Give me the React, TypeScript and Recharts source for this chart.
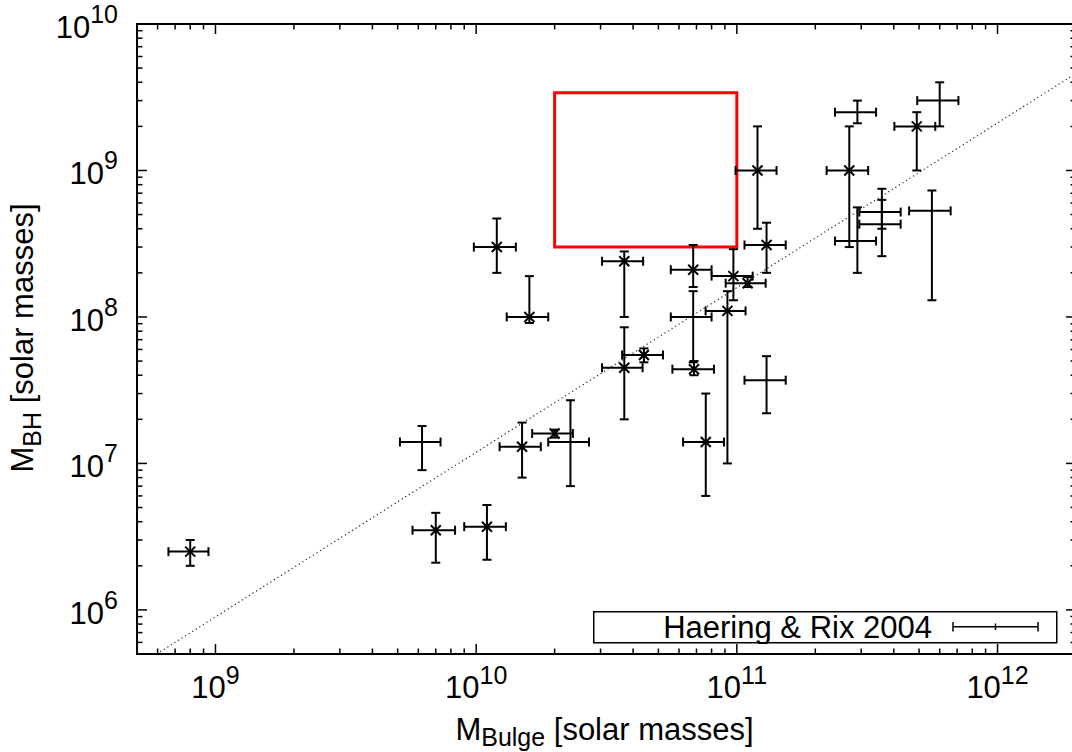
import React from 'react';
import {
  ErrorBar,
  Legend,
  ReferenceArea,
  Scatter,
  ScatterChart,
  XAxis,
  YAxis,
} from 'recharts';

// values (solar masses)
const bulgeMass = [
  8e8, 7e9, 1.1e10, 6.2e9, 1.2e10, 1.6e10, 1.5e10, 2.0e10, 2.3e10, 3.7e10,
  3.7e10, 4.4e10, 6.8e10, 6.8e10, 6.85e10, 7.6e10, 9.2e10, 9.7e10, 1.1e11, 1.2e11,
  1.3e11, 1.3e11, 2.7e11, 2.9e11, 2.9e11, 3.6e11, 3.6e11, 4.9e11, 5.6e11, 6.0e11,
];
const bulgeLow = [
  6.6e8, 5.7e9, 9.0e9, 5.1e9, 9.8e9, 1.31e10, 1.23e10, 1.64e10, 1.89e10, 3.04e10,
  3.04e10, 3.63e10, 5.58e10, 5.58e10, 5.66e10, 6.22e10, 7.59e10, 8.0e10, 9.06e10, 9.88e10,
  1.07e11, 1.07e11, 2.21e11, 2.38e11, 2.38e11, 2.95e11, 2.95e11, 4.02e11, 4.58e11, 4.92e11,
];
const bulgeHigh = [
  9.4e8, 8.3e9, 1.3e10, 7.3e9, 1.42e10, 1.89e10, 1.77e10, 2.35e10, 2.71e10, 4.37e10,
  4.35e10, 5.21e10, 8.0e10, 8.0e10, 8.17e10, 8.93e10, 1.08e11, 1.15e11, 1.29e11, 1.42e11,
  1.54e11, 1.54e11, 3.19e11, 3.42e11, 3.42e11, 4.25e11, 4.25e11, 5.77e11, 6.61e11, 7.08e11,
];
const bhMass = [
  2.5e6, 3.5e6, 3.7e6, 1.4e7, 3.0e8, 1.0e8, 1.3e7, 1.6e7, 1.4e7, 2.4e8,
  4.5e7, 5.5e7, 2.1e8, 1.0e8, 4.4e7, 1.4e7, 1.1e8, 1.9e8, 1.7e8, 1.0e9,
  3.1e8, 3.7e7, 1.0e9, 2.5e9, 3.3e8, 5.2e8, 4.3e8, 2.0e9, 5.3e8, 3.0e9,
];
const bhLow = [
  2.0e6, 2.1e6, 2.2e6, 9.0e6, 2.0e8, 9.1e7, 8.0e6, 1.5e7, 7.0e6, 1.0e8,
  2.0e7, 4.9e7, 1.6e8, 4.9e7, 4.0e7, 6.0e6, 1.0e7, 1.3e8, 1.6e8, 4.0e8,
  2.0e8, 2.2e7, 3.0e8, 2.1e9, 2.0e8, 4.0e8, 2.6e8, 1.0e9, 1.3e8, 2.0e9,
];
const bhHigh = [
  3.0e6, 4.6e6, 5.2e6, 1.8e7, 4.7e8, 1.9e8, 1.9e7, 1.7e7, 2.7e7, 2.8e8,
  8.5e7, 6.1e7, 3.1e8, 1.5e8, 5.0e7, 3.0e7, 1.5e8, 2.9e8, 1.87e8, 2.0e9,
  4.4e8, 5.4e7, 2.0e9, 3.0e9, 5.6e8, 7.5e8, 6.3e8, 2.5e9, 7.3e8, 4.0e9,
];
// 'x' = drawn with a cross, '+' = error bars only
const marker = [
  'x', 'x', 'x', '+', 'x', 'x', 'x', 'x', '+', 'x',
  'x', 'x', 'x', '+', 'x', 'x', 'x', 'x', 'x', 'x',
  'x', '+', 'x', '+', '+', '+', '+', 'x', '+', '+',
];

// dotted relation line, end points
const fitMass = [5.95e8, 2e12];
const fitBH = [5e5, 4.6e9];

// red box
const boxMass = [2e10, 1e11];
const boxBH = [3e8, 3.4e9];

const xDomain = [5e8, 2e12];
const yDomain = [5e5, 1e10];
const mantissas = [1, 2, 3, 4, 5, 6, 7, 8, 9];
const xDecades = [1e8, 1e9, 1e10, 1e11, 1e12];
const yDecades = [1e5, 1e6, 1e7, 1e8, 1e9, 1e10];

const LEGEND_LABEL = 'Haering & Rix 2004';

const CHART_W = 1100;
const CHART_H = 752;
const MARGIN = { top: 24, right: 24, left: 0, bottom: 0 };
const PLOT_TOP = MARGIN.top;
const PLOT_RIGHT = CHART_W - MARGIN.right;
const FONT = '"Liberation Sans", Arial, Helvetica, sans-serif';
const INK = '#000';
const FS = 31;
const FS_SUP = 25;

function buildTicks(decades: number[], domain: number[]) {
  const out: number[] = [];
  decades.forEach((d) => {
    mantissas.forEach((k) => {
      const v = Number((k * d).toPrecision(6));
      if (v > domain[0] * 1.0001 && v < domain[1] * 0.9999) out.push(v);
    });
  });
  if (Math.abs(Math.log10(domain[1]) % 1) < 1e-9) out.push(domain[1]);
  return out;
}

const xTicks = buildTicks(xDecades, xDomain);
const yTicks = buildTicks(yDecades, yDomain);

function decade(v: number) {
  const exp = Math.round(Math.log10(v));
  return { exp, major: Math.abs(v / Math.pow(10, exp) - 1) < 1e-6 };
}

function XTick(props: any) {
  const { x, y, payload } = props;
  const { exp, major } = decade(payload.value);
  const len = major ? 10 : 5.5;
  return (
    <g>
      <line x1={x} y1={y} x2={x} y2={y - len} stroke={INK} strokeWidth={1.5} />
      <line x1={x} y1={PLOT_TOP} x2={x} y2={PLOT_TOP + len} stroke={INK} strokeWidth={1.5} />
      {major && (
        <text x={x} y={y + 44} textAnchor="middle" fontSize={FS} fontFamily={FONT} fill={INK}>
          10
          <tspan dy={-14} fontSize={FS_SUP}>
            {exp}
          </tspan>
        </text>
      )}
    </g>
  );
}

function YTick(props: any) {
  const { x, y, payload } = props;
  const { exp, major } = decade(payload.value);
  const len = major ? 10 : 5.5;
  return (
    <g>
      <line x1={x} y1={y} x2={x + len} y2={y} stroke={INK} strokeWidth={1.5} />
      <line x1={PLOT_RIGHT} y1={y} x2={PLOT_RIGHT - len} y2={y} stroke={INK} strokeWidth={1.5} />
      {major && (
        <text x={x - 19} y={y + 14} textAnchor="end" fontSize={FS} fontFamily={FONT} fill={INK}>
          10
          <tspan dy={-15} fontSize={FS_SUP}>
            {exp}
          </tspan>
        </text>
      )}
    </g>
  );
}

function XTitle(props: any) {
  const vb = props.viewBox || {};
  const cx = vb.x + vb.width / 2 - 2;
  const by = vb.y + 86;
  return (
    <text x={cx} y={by} textAnchor="middle" fontSize={FS} fontFamily={FONT} fill={INK}>
      M
      <tspan dy={6} fontSize={FS_SUP}>
        Bulge
      </tspan>
      <tspan dy={-6} fontSize={FS}>
        {' [solar masses]'}
      </tspan>
    </text>
  );
}

function YTitle(props: any) {
  const vb = props.viewBox || {};
  const bx = vb.x + 33;
  const cy = vb.y + vb.height / 2 - 1;
  return (
    <text
      x={bx}
      y={cy}
      transform={`rotate(-90, ${bx}, ${cy})`}
      textAnchor="middle"
      fontSize={FS}
      fontFamily={FONT}
      fill={INK}
    >
      M
      <tspan dy={8} fontSize={FS_SUP}>
        BH
      </tspan>
      <tspan dy={-8} fontSize={FS}>
        {' [solar masses]'}
      </tspan>
    </text>
  );
}

function Cross(props: any) {
  const { cx, cy } = props;
  const r = 5;
  return (
    <g>
      <line x1={cx - r} y1={cy - r} x2={cx + r} y2={cy + r} stroke={INK} strokeWidth={2} />
      <line x1={cx - r} y1={cy + r} x2={cx + r} y2={cy - r} stroke={INK} strokeWidth={2} />
    </g>
  );
}

const NoMark = () => <g />;

function LegendBox({ payload }: any) {
  const label = payload && payload.length ? payload[0].value : LEGEND_LABEL;
  return (
    <svg width={465} height={33} style={{ display: 'block' }}>
      <rect x={0.75} y={0.75} width={463} height={31} fill="#fff" stroke={INK} strokeWidth={1.5} />
      <text x={339} y={27} textAnchor="end" fontSize={FS} fontFamily={FONT} fill={INK}>
        {label}
      </text>
      <line x1={360} y1={15.7} x2={445} y2={15.7} stroke={INK} strokeWidth={1.5} />
      <line x1={360} y1={11} x2={360} y2={20.4} stroke={INK} strokeWidth={1.5} />
      <line x1={445} y1={11} x2={445} y2={20.4} stroke={INK} strokeWidth={1.5} />
      <line x1={402.5} y1={12.5} x2={402.5} y2={19} stroke={INK} strokeWidth={1.5} />
    </svg>
  );
}

const points = bulgeMass.map((m, i) => ({
  m,
  bh: bhMass[i],
  ex: [m - bulgeLow[i], bulgeHigh[i] - m],
  ey: [bhMass[i] - bhLow[i], bhHigh[i] - bhMass[i]],
  kind: marker[i],
}));
const crossPoints = points.filter((p) => p.kind === 'x');
const plainPoints = points.filter((p) => p.kind === '+');
const fitLine = fitMass.map((m, i) => ({ m, bh: fitBH[i] }));

export default function App() {
  return (
    <div
      style={{
        position: 'absolute',
        left: 0,
        top: 0,
        width: 1072,
        height: 752,
        overflow: 'hidden',
        background: '#fff',
        fontFamily: FONT,
      }}
    >
      <ScatterChart width={CHART_W} height={CHART_H} margin={MARGIN}>
        <XAxis
          type="number"
          dataKey="m"
          scale="log"
          domain={xDomain}
          allowDataOverflow
          ticks={xTicks}
          interval={0}
          tickSize={0}
          tickMargin={0}
          tickLine={false}
          axisLine={false}
          tick={<XTick />}
          height={98}
          label={<XTitle />}
        />
        <YAxis
          type="number"
          dataKey="bh"
          scale="log"
          domain={yDomain}
          allowDataOverflow
          ticks={yTicks}
          interval={0}
          tickSize={0}
          tickMargin={0}
          tickLine={false}
          axisLine={false}
          tick={<YTick />}
          width={137}
          label={<YTitle />}
        />
        <ReferenceArea
          x1={xDomain[0]}
          x2={xDomain[1]}
          y1={yDomain[0]}
          y2={yDomain[1]}
          fill="none"
          stroke={INK}
          strokeWidth={2}
          ifOverflow="visible"
        />
        <Scatter
          data={fitLine}
          line={{ stroke: '#222', strokeWidth: 1.2, strokeDasharray: '1.2 3' }}
          shape={NoMark}
          legendType="none"
          isAnimationActive={false}
        />
        <ReferenceArea
          x1={boxMass[0]}
          x2={boxMass[1]}
          y1={boxBH[0]}
          y2={boxBH[1]}
          fill="none"
          stroke="#ff0000"
          strokeWidth={3}
          ifOverflow="visible"
        />
        <Scatter
          name={LEGEND_LABEL}
          data={plainPoints}
          shape={NoMark}
          isAnimationActive={false}
        >
          <ErrorBar dataKey="ex" direction="x" width={4.5} stroke={INK} strokeWidth={2} isAnimationActive={false} />
          <ErrorBar dataKey="ey" direction="y" width={4.5} stroke={INK} strokeWidth={2} isAnimationActive={false} />
        </Scatter>
        <Scatter
          name="crossed"
          data={crossPoints}
          shape={Cross}
          legendType="none"
          isAnimationActive={false}
        >
          <ErrorBar dataKey="ex" direction="x" width={4.5} stroke={INK} strokeWidth={2} isAnimationActive={false} />
          <ErrorBar dataKey="ey" direction="y" width={4.5} stroke={INK} strokeWidth={2} isAnimationActive={false} />
        </Scatter>
        <Legend
          content={<LegendBox />}
          layout="horizontal"
          align="center"
          verticalAlign="middle"
          width={465}
          height={33}
          wrapperStyle={{ left: 593, top: 611, width: 465, height: 33 }}
        />
      </ScatterChart>
    </div>
  );
}
